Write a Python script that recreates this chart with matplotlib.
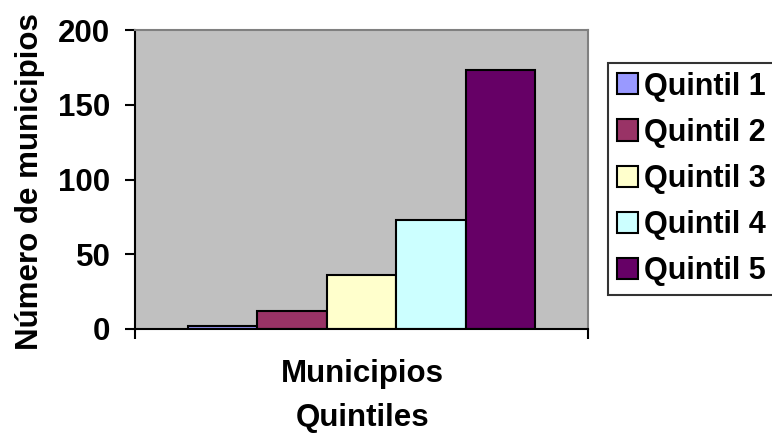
import numpy as np
import matplotlib
matplotlib.use('Agg')
import matplotlib.pyplot as plt

plt.rcParams['font.family'] = ['Liberation Sans', 'DejaVu Sans']
plt.rcParams['font.weight'] = 'bold'

series = ['Quintil 1', 'Quintil 2', 'Quintil 3', 'Quintil 4', 'Quintil 5']
values = [2, 12, 36, 73, 173]
colors = ['#9999FF', '#993366', '#FFFFCC', '#CCFFFF', '#660066']
category = 'Municipios'
yticks = [0, 50, 100, 150, 200]

fig = plt.figure(figsize=(7.72, 4.4), dpi=100)
ax = fig.add_axes([135 / 772, 1 - 329 / 440, (588 - 135) / 772, (329 - 30) / 440])
ax.set_facecolor('#C0C0C0')

pos = np.arange(len(values)) - (len(values) - 1) / 2
for p, v, c, s in zip(pos, values, colors, series):
    ax.bar(p, v, width=1.0, color=c, edgecolor='black', linewidth=1.5, label=s)

ax.set_xlim(-3.255, 3.255)
ax.set_ylim(0, 200)
ax.set_yticks(yticks)
ax.set_xticks([-3.255, 3.255])
ax.set_xticklabels([])
ax.tick_params(axis='y', direction='out', length=7.2, width=1.5, labelsize=22.5, pad=10.5)
ax.tick_params(axis='x', direction='out', length=7.2, width=1.5)
for lab in ax.get_yticklabels():
    lab.set_fontweight('bold')

ax.spines['left'].set_linewidth(1.5)
ax.spines['bottom'].set_linewidth(1.5)
ax.spines['top'].set_color('#808080')
ax.spines['right'].set_color('#808080')
ax.spines['top'].set_linewidth(1.5)
ax.spines['right'].set_linewidth(1.5)

fig.text(362 / 772, 1 - 374 / 440, category, ha='center', va='center', fontsize=22.5, fontweight='bold')
fig.text(363 / 772, 1 - 418 / 440, 'Quintiles', ha='center', va='center', fontsize=22.5, fontweight='bold')
fig.text(30 / 772, 1 - 182 / 440, 'Número de municipios', ha='center', va='center',
         rotation=90, fontsize=22.5, fontweight='bold')

leg = fig.legend(loc='upper left', bbox_to_anchor=(608 / 772, 1 - 63 / 440),
                 prop={'size': 22, 'weight': 'bold'}, frameon=True, fancybox=False,
                 borderaxespad=0, borderpad=0.28, labelspacing=0.53,
                 handlelength=0.69, handleheight=0.69, handletextpad=0.22)
leg.get_frame().set_edgecolor('black')
leg.get_frame().set_linewidth(1.5)

fig.savefig('out.png', dpi=100)
